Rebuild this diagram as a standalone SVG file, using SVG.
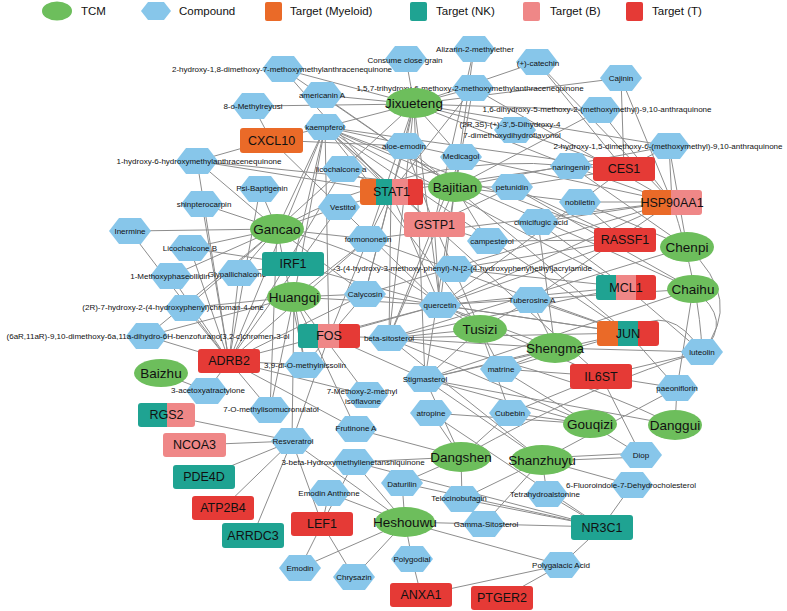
<svg xmlns="http://www.w3.org/2000/svg" xmlns:xlink="http://www.w3.org/1999/xlink" width="787" height="611" viewBox="0 0 787 611">
<defs>
<style>
.e{stroke:#8d8d8d;stroke-width:1;fill:none}
.tcm{fill:#6dbe5c}
.tt{font-family:"Liberation Sans",Arial,sans-serif;font-size:13.5px;fill:#111;text-anchor:middle;dominant-baseline:central}
.h{fill:#87c6ea}
.ct{font-family:"Liberation Sans",Arial,sans-serif;font-size:8px;fill:#111;text-anchor:middle;dominant-baseline:central}
.g{font-family:"Liberation Sans",Arial,sans-serif;font-size:12.5px;fill:#111;text-anchor:middle;dominant-baseline:central}
.lg{font-family:"Liberation Sans",Arial,sans-serif;font-size:11.5px;fill:#111;dominant-baseline:central}
.my{fill:#ea6a28}.nk{fill:#1fa392}.b{fill:#ef8787}.tc{fill:#e53a36}
</style>
<polygon id="hx" points="-21,0 -11,-13 11,-13 21,0 11,13 -11,13"/>
<clipPath id="cpSTAT1"><rect x="360" y="179" width="63" height="26" rx="3"/></clipPath>
<clipPath id="cpHSP"><rect x="642" y="190" width="60" height="25" rx="3"/></clipPath>
<clipPath id="cpMCL1"><rect x="596" y="275" width="60" height="25" rx="3"/></clipPath>
<clipPath id="cpJUN"><rect x="597" y="321" width="62" height="25" rx="3"/></clipPath>
<clipPath id="cpFOS"><rect x="298" y="324" width="62" height="24" rx="3"/></clipPath>
<clipPath id="cpRGS2"><rect x="138" y="403" width="57" height="24" rx="3"/></clipPath>
</defs>
<rect width="787" height="611" fill="#ffffff"/>

<g id="legend">
<ellipse class="tcm" cx="57" cy="11" rx="15" ry="9.5"/><text class="lg" x="81" y="11">TCM</text>
<polygon class="h" points="141,11 148,2 164,2 171,11 164,20 148,20"/><text class="lg" x="179" y="11">Compound</text>
<rect class="my" x="265" y="2" width="17" height="19" rx="2"/><text class="lg" x="290" y="11">Target (Myeloid)</text>
<rect class="nk" x="410" y="2" width="17" height="19" rx="2"/><text class="lg" x="436" y="11">Target (NK)</text>
<rect class="b" x="523" y="2" width="17" height="19" rx="2"/><text class="lg" x="550" y="11">Target (B)</text>
<rect class="tc" x="626" y="2" width="17" height="19" rx="2"/><text class="lg" x="652" y="11">Target (T)</text>
</g>

<g id="edges" class="e">
<path d="M414 104L406 59"/><path d="M414 104L537 62"/><path d="M414 104L283 69"/><path d="M414 104L473 88"/>
<path d="M414 104L621 78"/><path d="M414 104L322 95"/><path d="M414 104L253 106"/><path d="M414 104L600 110"/>
<path d="M414 104L325 127"/><path d="M414 104L515 130"/><path d="M414 104L669 146"/><path d="M414 104L405 146"/>
<path d="M414 104L461 157"/><path d="M414 104L343 169"/><path d="M414 104L368 239"/><path d="M414 104L389 338"/>
<path d="M414 104L425 379"/><path d="M414 104L571 166"/><path d="M414 104L440 305"/><path d="M414 104L365 294"/>
<path d="M455 187L474 49"/><path d="M455 187L283 69"/><path d="M455 187L473 88"/><path d="M455 187L600 110"/>
<path d="M455 187L669 146"/><path d="M455 187L197 161"/><path d="M455 187L322 95"/><path d="M455 187L512 187"/>
<path d="M455 187L488 241"/><path d="M455 187L389 338"/><path d="M455 187L425 379"/><path d="M455 187L461 157"/>
<path d="M455 187L440 305"/><path d="M455 187L580 202"/>
<path d="M277 229L130 231"/><path d="M277 229L202 204"/><path d="M277 229L190 248"/><path d="M277 229L171 276"/>
<path d="M277 229L239 273"/><path d="M277 229L260 189"/><path d="M277 229L339 207"/><path d="M277 229L343 169"/>
<path d="M277 229L186 308"/><path d="M277 229L147 336"/><path d="M277 229L368 239"/><path d="M277 229L325 127"/>
<path d="M277 229Q420 150 571 166"/><path d="M277 229Q370 250 440 305"/><path d="M277 229L365 294"/><path d="M277 229L305 365"/>
<path d="M277 229L270 410"/><path d="M277 229L197 161"/>
<path d="M294 297L368 239"/><path d="M294 297L365 294"/><path d="M294 297L440 305"/><path d="M294 297L325 127"/>
<path d="M294 297L305 365"/><path d="M294 297L270 410"/><path d="M294 297L367 395"/><path d="M294 297L147 336"/>
<path d="M294 297L186 308"/><path d="M294 297L356 429"/><path d="M294 297L292 441"/>
<path d="M480 329L440 305"/><path d="M480 329Q400 220 325 127"/><path d="M480 329L389 338"/><path d="M480 329L531 300"/>
<path d="M480 329L501 369"/><path d="M480 329L510 413"/><path d="M480 329L425 379"/><path d="M480 329L454 269"/>
<path d="M555 348L538 222"/><path d="M555 348L425 379"/><path d="M555 348L389 338"/><path d="M555 348L531 300"/>
<path d="M555 348L501 369"/><path d="M555 348L702 352"/><path d="M555 348L440 305"/>
<path d="M687 247L571 166"/><path d="M687 247L580 202"/><path d="M687 247L389 338"/><path d="M687 247Q745 300 702 352"/><path d="M687 247L669 146"/>
<path d="M693 289L440 305"/><path d="M693 289Q500 200 325 127"/><path d="M693 289L425 379"/><path d="M693 289L512 187"/>
<path d="M693 289Q735 320 702 352"/><path d="M693 289L677 388"/>
<path d="M161 373L207 391"/>
<path d="M590 424L431 413"/><path d="M590 424L510 413"/><path d="M590 424L389 338"/><path d="M590 424L425 379"/>
<path d="M590 424L501 369"/><path d="M590 424L641 455"/>
<path d="M675 425L425 379"/><path d="M675 425Q540 360 389 338"/><path d="M675 425L677 388"/>
<path d="M461 457L402 483"/><path d="M461 457L462 499"/><path d="M461 457L425 379"/><path d="M461 457Q600 380 702 352"/>
<path d="M461 457L356 429"/><path d="M461 457L354 462"/><path d="M461 457L431 413"/><path d="M461 457L510 413"/>
<path d="M542 460L547 494"/><path d="M542 458L641 453"/><path d="M542 461L641 457"/><path d="M542 460L632 485"/>
<path d="M542 460L484 524"/><path d="M542 460L425 379"/><path d="M542 460L389 338"/><path d="M542 460L677 388"/><path d="M542 460L462 499"/>
<path d="M405 522L329 493"/><path d="M405 522L300 568"/><path d="M405 522L354 577"/><path d="M405 522L412 559"/>
<path d="M405 522L484 524"/><path d="M405 522L292 441"/><path d="M405 522L354 462"/><path d="M405 522L561 565"/><path d="M405 522L402 483"/>
<path d="M271 140L253 106"/><path d="M271 140L325 127"/><path d="M271 140L440 305"/><path d="M271 140L197 161"/><path d="M271 140L405 146"/>
<path d="M391 192L325 127"/><path d="M391 192L440 305"/><path d="M391 192L343 169"/><path d="M391 192L368 239"/>
<path d="M391 192L405 146"/><path d="M391 192L473 88"/><path d="M391 192L571 166"/><path d="M391 192L339 207"/>
<path d="M391 192L389 338"/><path d="M391 192L365 294"/><path d="M391 192L283 69"/><path d="M391 192L197 161"/>
<path d="M434 224L440 305"/><path d="M434 224L325 127"/><path d="M434 224L405 146"/><path d="M434 224L461 157"/>
<path d="M434 224L474 49"/><path d="M434 224L488 241"/><path d="M434 224L454 269"/><path d="M434 224L512 187"/><path d="M434 224L389 338"/>
<path d="M293 264L440 305"/><path d="M293 264L325 127"/><path d="M293 264L239 273"/><path d="M293 264L190 248"/>
<path d="M624 169L537 62"/><path d="M624 169L621 78"/><path d="M624 169L515 130"/><path d="M624 169L571 166"/>
<path d="M624 169L512 187"/><path d="M624 169L440 305"/><path d="M624 169L325 127"/><path d="M624 169L669 146"/>
<path d="M672 202L621 78"/><path d="M672 202L600 110"/><path d="M672 202L669 146"/><path d="M672 202L571 166"/>
<path d="M672 202L580 202"/><path d="M672 202L440 305"/><path d="M672 202L325 127"/><path d="M672 202L368 239"/>
<path d="M672 202L365 294"/><path d="M672 202Q700 290 702 352"/><path d="M672 202L531 300"/><path d="M672 202L538 222"/>
<path d="M672 202L537 62"/><path d="M672 202L473 88"/>
<path d="M625 240L440 305"/><path d="M625 240L325 127"/><path d="M625 240L512 187"/><path d="M625 240L454 269"/>
<path d="M625 240L488 241"/><path d="M625 240L580 202"/>
<path d="M626 287L440 305"/><path d="M626 287L325 127"/><path d="M626 287L702 352"/><path d="M626 287L389 338"/>
<path d="M626 287L454 269"/><path d="M626 287L538 222"/>
<path d="M628 333L440 305"/><path d="M628 333L325 127"/><path d="M628 333L389 338"/><path d="M628 333L425 379"/>
<path d="M628 333Q670 300 702 352"/><path d="M628 333L677 388"/><path d="M628 333L501 369"/><path d="M628 333L368 239"/>
<path d="M628 333L365 294"/><path d="M628 333L405 146"/><path d="M628 333L531 300"/>
<path d="M601 376L440 305"/><path d="M601 376L325 127"/><path d="M601 376L501 369"/><path d="M601 376L510 413"/>
<path d="M601 376L702 352"/><path d="M601 376L641 455"/><path d="M601 376L677 388"/>
<path d="M329 336L440 305"/><path d="M329 336L305 365"/><path d="M329 336L365 294"/><path d="M329 336L368 239"/>
<path d="M329 336L325 127"/><path d="M329 336L389 338"/><path d="M329 336L425 379"/><path d="M329 336L292 441"/>
<path d="M229 361L130 231"/><path d="M229 361L202 204"/><path d="M229 361L190 248"/><path d="M229 361L171 276"/>
<path d="M229 361L239 273"/><path d="M229 361L186 308"/><path d="M229 361L147 336"/><path d="M229 361L305 365"/>
<path d="M229 361L207 391"/><path d="M229 361L270 410"/><path d="M229 361L367 395"/><path d="M229 361L356 429"/>
<path d="M229 361L368 239"/><path d="M229 361L365 294"/><path d="M229 361L339 207"/><path d="M229 361L260 189"/>
<path d="M229 361L343 169"/><path d="M229 361L197 161"/><path d="M229 361L440 305"/><path d="M229 361L325 127"/>
<path d="M166 415L292 441"/><path d="M194 445L292 441"/><path d="M204 477L292 441"/><path d="M223 508L292 441"/><path d="M253 535L292 441"/>
<path d="M322 524L329 493"/><path d="M322 524L300 568"/><path d="M322 524L354 577"/><path d="M322 524L292 441"/><path d="M322 524L354 462"/>
<path d="M421 595L412 559"/><path d="M421 595L561 565"/><path d="M502 598L561 565"/>
<path d="M602 527L561 565"/><path d="M602 527L632 485"/><path d="M602 527L547 494"/><path d="M602 527L462 499"/>
<path d="M602 527L484 524"/><path d="M602 527L402 483"/><path d="M602 527L354 462"/><path d="M602 527L431 413"/>
</g>

<g id="compounds">
<g id="c1"><use href="#hx" x="406" y="59" class="h"/><text class="ct" x="405" y="60">Consume close grain</text></g>
<g id="c2"><use href="#hx" x="474" y="49" class="h"/><text class="ct" x="475" y="49">Alizarin-2-methylether</text></g>
<g id="c3"><use href="#hx" x="537" y="62" class="h"/><text class="ct" x="538" y="63">(+)-catechin</text></g>
<g id="c4"><use href="#hx" x="283" y="69" class="h"/><text class="ct" x="282" y="69">2-hydroxy-1,8-dimethoxy-7-methoxymethylanthracenequinone</text></g>
<g id="c5"><use href="#hx" x="473" y="88" class="h"/><text class="ct" x="470" y="88">1,5,7-trihydroxy-6-methoxy-2-methoxymethylanthracenequinone</text></g>
<g id="c6"><use href="#hx" x="621" y="78" class="h"/><text class="ct" x="621" y="78">Cajinin</text></g>
<g id="c7"><use href="#hx" x="322" y="95" class="h"/><text class="ct" x="322" y="95">americanin A</text></g>
<g id="c8"><use href="#hx" x="253" y="106" class="h"/><text class="ct" x="253" y="106">8-o-Methylreyusi</text></g>
<g id="c9"><use href="#hx" x="600" y="110" class="h"/><text class="ct" x="597" y="109">1,6-dihydroxy-5-methoxy-2-(methoxymethyl)-9,10-anthraquinone</text></g>
<g id="c10"><use href="#hx" x="325" y="127" class="h"/><text class="ct" x="325" y="127">kaempferol</text></g>
<g id="c11"><use href="#hx" x="515" y="130" class="h"/><text class="ct" x="510" y="124">(2R,3S)-(+)-3',5-Dihydroxy-4</text><text class="ct" x="512" y="135">7-dimethoxydihydroflavonol</text></g>
<g id="c12"><use href="#hx" x="669" y="146" class="h"/><text class="ct" x="668" y="146">2-hydroxy-1,5-dimethoxy-6-(methoxymethyl)-9,10-anthraquinone</text></g>
<g id="c13"><use href="#hx" x="405" y="146" class="h"/><text class="ct" x="404" y="146">aloe-emodin</text></g>
<g id="c14"><use href="#hx" x="461" y="157" class="h"/><text class="ct" x="461" y="156">Medicagol</text></g>
<g id="c15"><use href="#hx" x="571" y="166" class="h"/><text class="ct" x="571" y="167">naringenin</text></g>
<g id="c16"><use href="#hx" x="343" y="169" class="h"/><text class="ct" x="341" y="169">licochalcone a</text></g>
<g id="c17"><use href="#hx" x="197" y="161" class="h"/><text class="ct" x="199" y="161">1-hydroxy-6-hydroxymethylanthracenequinone</text></g>
<g id="c18"><use href="#hx" x="260" y="189" class="h"/><text class="ct" x="262" y="188">Psi-Baptigenin</text></g>
<g id="c19"><use href="#hx" x="202" y="204" class="h"/><text class="ct" x="204" y="204">shinpterocarpin</text></g>
<g id="c20"><use href="#hx" x="339" y="207" class="h"/><text class="ct" x="343" y="207">Vestitol</text></g>
<g id="c21"><use href="#hx" x="512" y="187" class="h"/><text class="ct" x="512" y="187">petunidin</text></g>
<g id="c22"><use href="#hx" x="580" y="202" class="h"/><text class="ct" x="580" y="202">nobiletin</text></g>
<g id="c23"><use href="#hx" x="538" y="222" class="h"/><text class="ct" x="541" y="222">cimicifugic acid</text></g>
<g id="c24"><use href="#hx" x="488" y="241" class="h"/><text class="ct" x="492" y="241">campesterol</text></g>
<g id="c25"><use href="#hx" x="130" y="231" class="h"/><text class="ct" x="130" y="231">Inermine</text></g>
<g id="c26"><use href="#hx" x="190" y="248" class="h"/><text class="ct" x="190" y="248">Licochalcone B</text></g>
<g id="c27"><use href="#hx" x="368" y="239" class="h"/><text class="ct" x="368" y="239">formononetin</text></g>
<g id="c28"><use href="#hx" x="171" y="276" class="h"/><text class="ct" x="170" y="276">1-Methoxyphaseollidin</text></g>
<g id="c29"><use href="#hx" x="239" y="273" class="h"/><text class="ct" x="237" y="274">Glypallichalcone</text></g>
<g id="c30"><use href="#hx" x="454" y="269" class="h"/><text class="ct" x="592" y="268" style="text-anchor:end">-3-(4-hydroxy-3-methoxy-phenyl)-N-[2-(4-hydroxyphenyl)ethyl]acrylamide</text></g>
<g id="c31"><use href="#hx" x="186" y="308" class="h"/><text class="ct" x="173" y="307">(2R)-7-hydroxy-2-(4-hydroxyphenyl)chroman-4-one</text></g>
<g id="c32"><use href="#hx" x="147" y="336" class="h"/><text class="ct" x="148" y="336">(6aR,11aR)-9,10-dimethoxy-6a,11a-dihydro-6H-benzofurano[3,2-c]chromen-3-ol</text></g>
<g id="c33"><use href="#hx" x="365" y="294" class="h"/><text class="ct" x="365" y="294">Calycosin</text></g>
<g id="c34"><use href="#hx" x="440" y="305" class="h"/><text class="ct" x="440" y="305">quercetin</text></g>
<g id="c35"><use href="#hx" x="531" y="300" class="h"/><text class="ct" x="532" y="300">Tuberosine A</text></g>
<g id="c36"><use href="#hx" x="389" y="338" class="h"/><text class="ct" x="389" y="338">beta-sitosterol</text></g>
<g id="c37"><use href="#hx" x="305" y="365" class="h"/><text class="ct" x="305" y="365">3,9-di-O-methylnissolin</text></g>
<g id="c38"><use href="#hx" x="501" y="369" class="h"/><text class="ct" x="501" y="369">matrine</text></g>
<g id="c39"><use href="#hx" x="425" y="379" class="h"/><text class="ct" x="425" y="379">Stigmasterol</text></g>
<g id="c40"><use href="#hx" x="702" y="352" class="h"/><text class="ct" x="702" y="352">luteolin</text></g>
<g id="c41"><use href="#hx" x="677" y="388" class="h"/><text class="ct" x="677" y="388">paeoniflorin</text></g>
<g id="c42"><use href="#hx" x="207" y="391" class="h"/><text class="ct" x="208" y="390">3-acetoxyatractylone</text></g>
<g id="c43"><use href="#hx" x="367" y="395" class="h"/><text class="ct" x="362" y="391">7-Methoxy-2-methyl</text><text class="ct" x="363" y="401">isoflavone</text></g>
<g id="c44"><use href="#hx" x="270" y="410" class="h"/><text class="ct" x="271" y="409">7-O-methylisomucronulatol</text></g>
<g id="c45"><use href="#hx" x="431" y="413" class="h"/><text class="ct" x="431" y="413">atropine</text></g>
<g id="c46"><use href="#hx" x="510" y="413" class="h"/><text class="ct" x="510" y="413">Cubebin</text></g>
<g id="c47"><use href="#hx" x="356" y="429" class="h"/><text class="ct" x="356" y="428">Frutinone A</text></g>
<g id="c48"><use href="#hx" x="292" y="441" class="h"/><text class="ct" x="293" y="441">Resveratrol</text></g>
<g id="c49"><use href="#hx" x="354" y="462" class="h"/><text class="ct" x="353" y="462">3-beta-Hydroxymethyllenetanshiquinone</text></g>
<g id="c50"><use href="#hx" x="641" y="455" class="h"/><text class="ct" x="641" y="455">Diop</text></g>
<g id="c51"><use href="#hx" x="402" y="483" class="h"/><text class="ct" x="402" y="484">Daturilin</text></g>
<g id="c52"><use href="#hx" x="329" y="493" class="h"/><text class="ct" x="329" y="493">Emodin Anthrone</text></g>
<g id="c53"><use href="#hx" x="462" y="499" class="h"/><text class="ct" x="459" y="498">Telocinobufagin</text></g>
<g id="c54"><use href="#hx" x="547" y="494" class="h"/><text class="ct" x="545" y="494">Tetrahydroalstonine</text></g>
<g id="c55"><use href="#hx" x="632" y="485" class="h"/><text class="ct" x="631" y="485">6-Fluoroindole-7-Dehydrocholesterol</text></g>
<g id="c56"><use href="#hx" x="484" y="524" class="h"/><text class="ct" x="486" y="524">Gamma-Sitosterol</text></g>
<g id="c57"><use href="#hx" x="300" y="568" class="h"/><text class="ct" x="300" y="568">Emodin</text></g>
<g id="c58"><use href="#hx" x="354" y="577" class="h"/><text class="ct" x="354" y="577">Chrysazin</text></g>
<g id="c59"><use href="#hx" x="412" y="559" class="h"/><text class="ct" x="412" y="559">Polygodial</text></g>
<g id="c60"><use href="#hx" x="561" y="565" class="h"/><text class="ct" x="561" y="565">Polygalacic Acid</text></g>
</g>

<g id="targets">
<g id="t-CXCL10"><rect class="my" x="240" y="128" width="63" height="25" rx="3"/><text class="g" x="271.5" y="140.5">CXCL10</text></g>
<g id="t-STAT1"><g clip-path="url(#cpSTAT1)"><rect class="my" x="360" y="179" width="16" height="26"/><rect class="nk" x="376" y="179" width="16" height="26"/><rect class="b" x="392" y="179" width="16" height="26"/><rect class="tc" x="408" y="179" width="15" height="26"/></g><text class="g" x="391.5" y="192">STAT1</text></g>
<g id="t-GSTP1"><rect class="b" x="404" y="212" width="61" height="25" rx="3"/><text class="g" x="434.5" y="224.5">GSTP1</text></g>
<g id="t-IRF1"><rect class="nk" x="262" y="252" width="62" height="24" rx="3"/><text class="g" x="293" y="264">IRF1</text></g>
<g id="t-CES1"><rect class="tc" x="593" y="157" width="62" height="24" rx="3"/><text class="g" x="624" y="169">CES1</text></g>
<g id="t-HSP90AA1"><g clip-path="url(#cpHSP)"><rect class="my" x="642" y="190" width="29" height="25"/><rect class="b" x="671" y="190" width="31" height="25"/></g><text class="g" x="672" y="202.5">HSP90AA1</text></g>
<g id="t-RASSF1"><rect class="tc" x="594" y="228" width="62" height="24" rx="3"/><text class="g" x="625" y="240">RASSF1</text></g>
<g id="t-MCL1"><g clip-path="url(#cpMCL1)"><rect class="nk" x="596" y="275" width="20" height="25"/><rect class="b" x="616" y="275" width="20" height="25"/><rect class="tc" x="636" y="275" width="20" height="25"/></g><text class="g" x="626" y="287.5">MCL1</text></g>
<g id="t-JUN"><g clip-path="url(#cpJUN)"><rect class="my" x="597" y="321" width="21" height="25"/><rect class="nk" x="618" y="321" width="20" height="25"/><rect class="tc" x="638" y="321" width="21" height="25"/></g><text class="g" x="628" y="333.5">JUN</text></g>
<g id="t-IL6ST"><rect class="tc" x="570" y="364" width="62" height="25" rx="3"/><text class="g" x="601" y="376.5">IL6ST</text></g>
<g id="t-FOS"><g clip-path="url(#cpFOS)"><rect class="nk" x="298" y="324" width="20" height="24"/><rect class="b" x="318" y="324" width="21" height="24"/><rect class="tc" x="339" y="324" width="21" height="24"/></g><text class="g" x="329" y="336">FOS</text></g>
<g id="t-ADRB2"><rect class="tc" x="198" y="349" width="62" height="24" rx="3"/><text class="g" x="229" y="361">ADRB2</text></g>
<g id="t-RGS2"><g clip-path="url(#cpRGS2)"><rect class="nk" x="138" y="403" width="29" height="24"/><rect class="b" x="167" y="403" width="28" height="24"/></g><text class="g" x="166.5" y="415">RGS2</text></g>
<g id="t-NCOA3"><rect class="b" x="163" y="433" width="63" height="24" rx="3"/><text class="g" x="194.5" y="445">NCOA3</text></g>
<g id="t-PDE4D"><rect class="nk" x="173" y="465" width="62" height="24" rx="3"/><text class="g" x="204" y="477">PDE4D</text></g>
<g id="t-ATP2B4"><rect class="tc" x="192" y="496" width="62" height="24" rx="3"/><text class="g" x="223" y="508">ATP2B4</text></g>
<g id="t-ARRDC3"><rect class="nk" x="222" y="523" width="62" height="25" rx="3"/><text class="g" x="253" y="535.5">ARRDC3</text></g>
<g id="t-LEF1"><rect class="tc" x="291" y="512" width="62" height="24" rx="3"/><text class="g" x="322" y="524">LEF1</text></g>
<g id="t-ANXA1"><rect class="tc" x="390" y="583" width="62" height="24" rx="3"/><text class="g" x="421" y="595">ANXA1</text></g>
<g id="t-PTGER2"><rect class="tc" x="471" y="586" width="62" height="24" rx="3"/><text class="g" x="502" y="598">PTGER2</text></g>
<g id="t-NR3C1"><rect class="nk" x="571" y="515" width="62" height="25" rx="3"/><text class="g" x="602" y="527.5">NR3C1</text></g>
</g>

<g id="tcm">
<g id="Jixueteng"><ellipse class="tcm" cx="414" cy="103" rx="28" ry="15"/><text class="tt" x="414" y="103">Jixueteng</text></g>
<g id="Bajitian"><ellipse class="tcm" cx="455" cy="187" rx="27" ry="15"/><text class="tt" x="455" y="187">Bajitian</text></g>
<g id="Gancao"><ellipse class="tcm" cx="277" cy="229" rx="27" ry="15"/><text class="tt" x="277" y="229">Gancao</text></g>
<g id="Huangqi"><ellipse class="tcm" cx="294" cy="297" rx="27" ry="15"/><text class="tt" x="294" y="297">Huangqi</text></g>
<g id="Tusizi"><ellipse class="tcm" cx="480" cy="329" rx="27" ry="14"/><text class="tt" x="480" y="329">Tusizi</text></g>
<g id="Shengma"><ellipse class="tcm" cx="555" cy="348" rx="28" ry="15"/><text class="tt" x="555" y="348">Shengma</text></g>
<g id="Chenpi"><ellipse class="tcm" cx="687" cy="247" rx="27" ry="15"/><text class="tt" x="687" y="247">Chenpi</text></g>
<g id="Chaihu"><ellipse class="tcm" cx="693" cy="289" rx="26" ry="14"/><text class="tt" x="693" y="289">Chaihu</text></g>
<g id="Baizhu"><ellipse class="tcm" cx="161" cy="373" rx="27" ry="14"/><text class="tt" x="161" y="373">Baizhu</text></g>
<g id="Gouqizi"><ellipse class="tcm" cx="590" cy="424" rx="27" ry="14"/><text class="tt" x="590" y="424">Gouqizi</text></g>
<g id="Danggui"><ellipse class="tcm" cx="675" cy="425" rx="27" ry="15"/><text class="tt" x="675" y="425">Danggui</text></g>
<g id="Dangshen"><ellipse class="tcm" cx="461" cy="457" rx="30" ry="15"/><text class="tt" x="461" y="457">Dangshen</text></g>
<g id="Shanzhuyu"><ellipse class="tcm" cx="542" cy="460" rx="31" ry="15"/><text class="tt" x="542" y="460">Shanzhuyu</text></g>
<g id="Heshouwu"><ellipse class="tcm" cx="405" cy="522" rx="30" ry="15"/><text class="tt" x="405" y="522">Heshouwu</text></g>
</g>
</svg>
